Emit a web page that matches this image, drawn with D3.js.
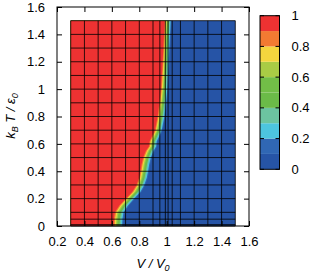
<!DOCTYPE html>
<html>
<head>
<meta charset="utf-8">
<script src="https://cdn.jsdelivr.net/npm/d3@7"></script>
<style>
  html, body { margin: 0; padding: 0; background: #fff; }
  svg { display: block; }
  text { font-family: "Liberation Sans", Arial, Helvetica, sans-serif; }
</style>
</head>
<body>
<svg id="chart" width="311" height="276"></svg>
<script>
// ---- data ----
// temperature rows (k_B T / eps_0) of the data mesh
const tRows = [0, 0.01, 0.05, 0.1, 0.15, 0.2, 0.25, 0.3, 0.35, 0.4, 0.45, 0.5, 0.55, 0.58, 0.62, 0.65, 0.7, 0.8, 0.9, 1.0, 1.1, 1.2, 1.3, 1.4, 1.5];
// V/V0 where the value crosses 0.5 at each temperature row
const vMid   = [0.648, 0.648, 0.650, 0.658, 0.690, 0.735, 0.783, 0.812, 0.830, 0.840, 0.848, 0.860, 0.880, 0.900, 0.905, 0.920, 0.942, 0.962, 0.974, 0.984, 0.99, 0.995, 1.0, 1.005, 1.01];
// width (in V/V0) of the 1 -> 0 transition at each row
const vWidth = [0.09, 0.09, 0.09, 0.09, 0.09, 0.085, 0.085, 0.08, 0.08, 0.08, 0.08, 0.08, 0.08, 0.075, 0.075, 0.075, 0.07, 0.07, 0.068, 0.066, 0.064, 0.062, 0.062, 0.062, 0.062];
// mesh lines
const meshV = [0.3, 0.4, 0.5, 0.6, 0.7, 0.8, 0.9, 0.95, 0.99, 1.01, 1.04, 1.1, 1.2, 1.3, 1.4, 1.5];
const meshT = [0, 0.01, 0.05, 0.1, 0.2, 0.3, 0.4, 0.5, 0.6, 0.7, 0.8, 0.9, 1.0, 1.1, 1.2, 1.3, 1.4, 1.5];
// palette (10 discrete levels)
const levels = [0.1, 0.2, 0.3, 0.4, 0.5, 0.6, 0.7, 0.8, 0.9];
const paletteColors = ["#2654a6", "#3067b4", "#4dc5df", "#6cc4a0", "#6bbb48", "#72be47", "#a9cc45", "#f4d63e", "#f27a32", "#ee3232"];
// ticks
const xTicks = [0.2, 0.4, 0.6, 0.8, 1.0, 1.2, 1.4, 1.6];
const yTicks = [0, 0.2, 0.4, 0.6, 0.8, 1.0, 1.2, 1.4, 1.6];
const cbTicks = [0, 0.2, 0.4, 0.6, 0.8, 1.0];
const dataVRange = [0.3, 1.5];
const dataTRange = [0, 1.5];

// ---- drawing ----
const svg = d3.select("#chart");
const x = d3.scaleLinear().domain([0.2, 1.6]).range([57, 249]);
const y = d3.scaleLinear().domain([0, 1.6]).range([226, 7]);
const color = d3.scaleThreshold().domain(levels).range(paletteColors);
const fmt = d => String(+d.toFixed(1));

const plot = svg.append("g");
// lowest level background
plot.append("rect")
  .attr("x", x(dataVRange[0])).attr("y", y(dataTRange[1]))
  .attr("width", x(dataVRange[1]) - x(dataVRange[0]))
  .attr("height", y(dataTRange[0]) - y(dataTRange[1]))
  .attr("fill", paletteColors[0]);

// filled contour bands, painted from low to high level
const rows = tRows.map((t, i) => ({ t, mid: vMid[i], w: vWidth[i] }));
levels.forEach(lev => {
  const area = d3.area()
    .y(d => y(d.t))
    .x0(x(dataVRange[0]))
    .x1(d => x(Math.max(dataVRange[0], Math.min(dataVRange[1], d.mid + (0.5 - lev) * d.w))));
  plot.append("path")
    .datum(rows)
    .attr("d", area)
    .attr("fill", color(lev + 0.001));
});

// mesh lines
const mesh = svg.append("g").attr("stroke", "#000").attr("stroke-opacity", 0.8).attr("stroke-width", 1);
mesh.selectAll("line.v").data(meshV).join("line")
  .attr("x1", d => x(d)).attr("x2", d => x(d))
  .attr("y1", y(dataTRange[0])).attr("y2", y(dataTRange[1]));
mesh.selectAll("line.h").data(meshT).join("line")
  .attr("y1", d => y(d)).attr("y2", d => y(d))
  .attr("x1", x(dataVRange[0])).attr("x2", x(dataVRange[1]));

// axes
const axFont = g => g.selectAll("text").attr("font-size", 13).attr("fill", "#000")
  .style("font-family", "'Liberation Sans', Arial, sans-serif");
const cleanup = g => { g.select(".domain").remove(); g.selectAll(".tick line").attr("stroke", "#000"); };

svg.append("g").attr("transform", `translate(0,${y(0)})`)
  .call(d3.axisBottom(x).tickValues(xTicks).tickFormat(fmt).tickSize(-5).tickPadding(11))
  .call(cleanup).call(axFont);
svg.append("g").attr("transform", `translate(0,${y(1.6)})`)
  .call(d3.axisTop(x).tickValues(xTicks).tickFormat("").tickSize(-5))
  .call(cleanup);
svg.append("g").attr("transform", `translate(${x(0.2)},0)`)
  .call(d3.axisLeft(y).tickValues(yTicks).tickFormat(fmt).tickSize(-5).tickPadding(12))
  .call(cleanup).call(axFont);
svg.append("g").attr("transform", `translate(${x(1.6)},0)`)
  .call(d3.axisRight(y).tickValues(yTicks).tickFormat("").tickSize(-5))
  .call(cleanup);

// frame
svg.append("rect")
  .attr("x", x(0.2)).attr("y", y(1.6))
  .attr("width", x(1.6) - x(0.2)).attr("height", y(0) - y(1.6))
  .attr("fill", "none").attr("stroke", "#000").attr("stroke-width", 1);

// axis titles
const xt = svg.append("text").attr("x", 153).attr("y", 268)
  .attr("text-anchor", "middle").attr("font-size", 13).attr("font-style", "italic");
xt.append("tspan").text("V / V");
xt.append("tspan").attr("font-size", 9).attr("dy", 3).text("0");

const yt = svg.append("text").attr("transform", "translate(15,116) rotate(-90)")
  .attr("text-anchor", "middle").attr("font-size", 13).attr("font-style", "italic");
yt.append("tspan").text("k");
yt.append("tspan").attr("font-size", 9).attr("dy", 3).text("B");
yt.append("tspan").attr("dy", -3).text(" T / ε");
yt.append("tspan").attr("font-size", 9).attr("dy", 3).text("0");

// colour bar
const cb = svg.append("g");
const cbX0 = 260, cbX1 = 279.5;
const cy = d3.scaleLinear().domain([0, 1]).range([169.3, 15.7]);
const bands = d3.range(paletteColors.length).map(i => ({ lo: i / paletteColors.length, hi: (i + 1) / paletteColors.length, c: paletteColors[i] }));
cb.selectAll("rect.band").data(bands).join("rect")
  .attr("x", cbX0).attr("width", cbX1 - cbX0)
  .attr("y", d => cy(d.hi)).attr("height", d => cy(d.lo) - cy(d.hi))
  .attr("fill", d => d.c);
cb.append("rect").attr("x", cbX0).attr("y", cy(1)).attr("width", cbX1 - cbX0).attr("height", cy(0) - cy(1))
  .attr("fill", "none").attr("stroke", "#000").attr("stroke-width", 1);
cb.selectAll("line.tl").data(cbTicks).join("line")
  .attr("x1", cbX0).attr("x2", cbX0 + 4).attr("y1", d => cy(d)).attr("y2", d => cy(d)).attr("stroke", "#000");
cb.selectAll("line.tr").data(cbTicks).join("line")
  .attr("x1", cbX1).attr("x2", cbX1 - 4).attr("y1", d => cy(d)).attr("y2", d => cy(d)).attr("stroke", "#000");
cb.selectAll("text").data(cbTicks).join("text")
  .attr("x", 291.5).attr("y", d => cy(d)).attr("dy", "0.35em")
  .attr("font-size", 13).text(fmt);
</script>
</body>
</html>
